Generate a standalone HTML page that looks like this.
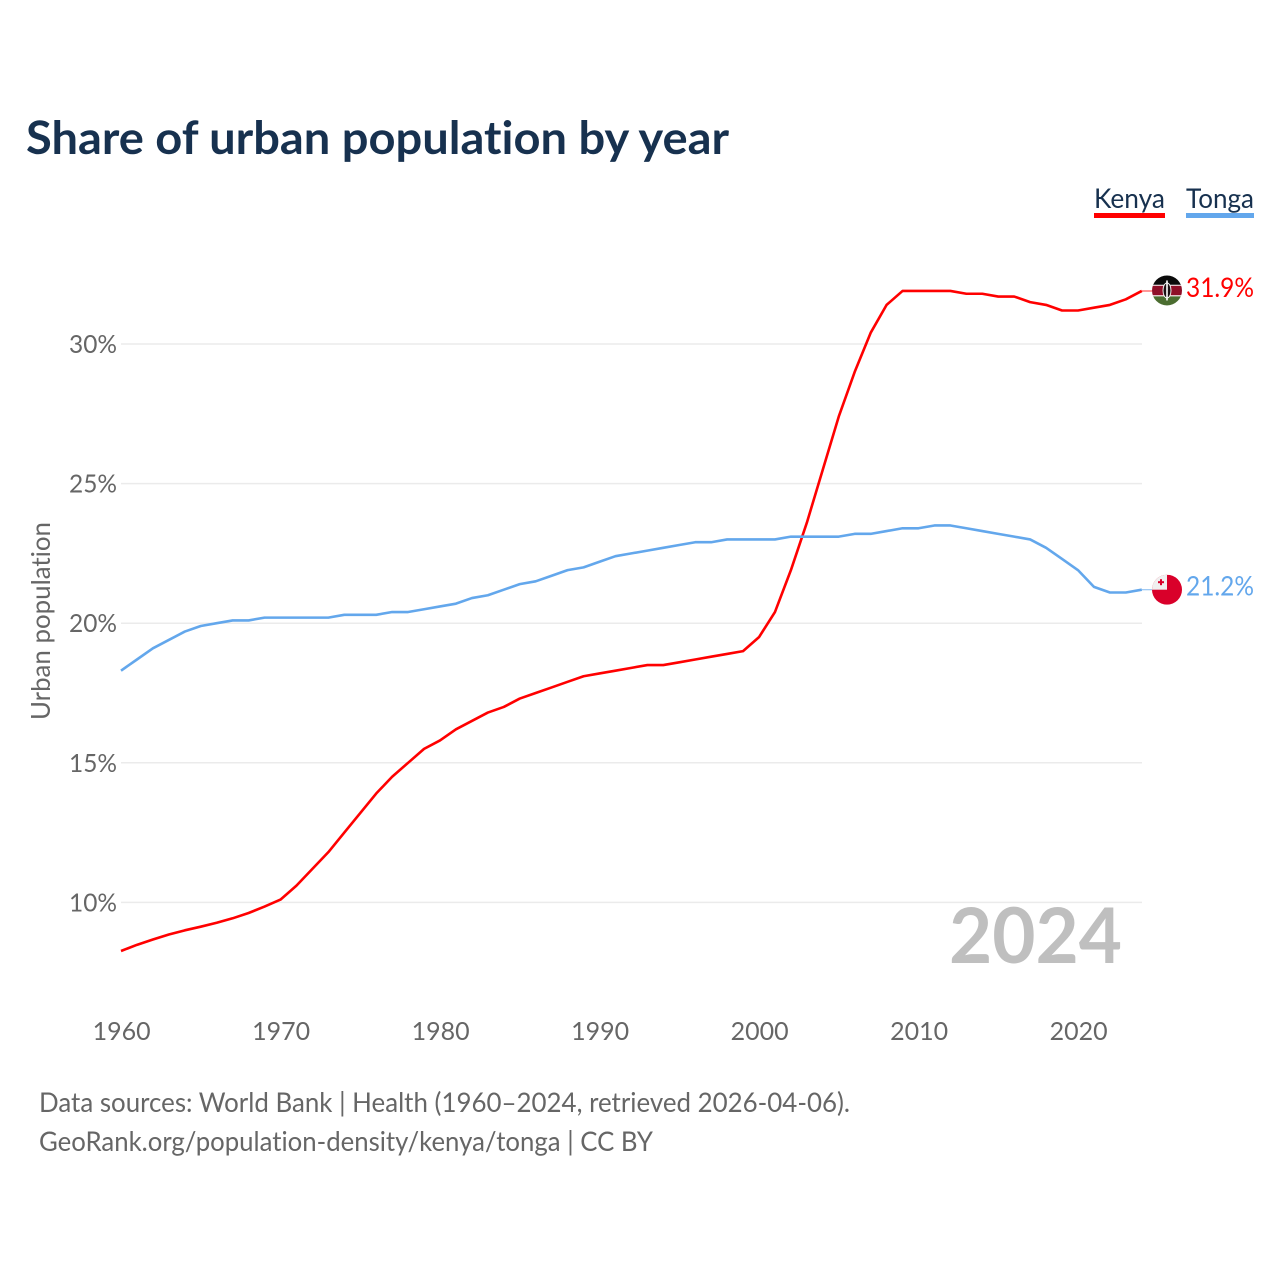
<!DOCTYPE html>
<html lang="en">
<head>
<meta charset="utf-8">
<title>Share of urban population by year</title>
<style>
html,body{margin:0;padding:0;background:#fff;width:1280px;height:1280px;overflow:hidden}
svg{display:block}
text{font-family:"Lato","Carlito","Liberation Sans",sans-serif;font-variant-ligatures:none;font-feature-settings:"liga" 0,"clig" 0}
</style>
</head>
<body>
<svg id="chart" xmlns="http://www.w3.org/2000/svg" width="1280" height="1280" viewBox="0 0 1280 1280">
  <defs>
    <clipPath id="flag-clip-k"><circle id="clip-k" cx="1167" cy="290" r="15"/></clipPath>
    <clipPath id="flag-clip-t"><circle id="clip-t" cx="1167" cy="590" r="15"/></clipPath>
  </defs>
  <rect width="1280" height="1280" fill="#fff"/>
  <text x="26" y="154" font-size="46" font-weight="700" fill="#17314f" textLength="703" lengthAdjust="spacingAndGlyphs">Share of urban population by year</text>

  <g>
    <g>
      <text x="1094" y="208" font-size="27" fill="#17314f" textLength="71" lengthAdjust="spacingAndGlyphs">Kenya</text>
      <rect x="1094" y="213" width="71" height="5" fill="#ff0000"/>
    </g>
    <g>
      <text x="1186" y="208" font-size="27" fill="#17314f" textLength="68" lengthAdjust="spacingAndGlyphs">Tonga</text>
      <rect x="1186" y="213" width="68" height="5" fill="#63a7ec"/>
    </g>
  </g>

  <g id="grid"></g>
  <g id="y-axis"></g>
  <g id="x-axis"></g>
  <text transform="translate(50,621) rotate(-90)" text-anchor="middle" font-size="26" fill="#666" textLength="198" lengthAdjust="spacingAndGlyphs">Urban population</text>
  <text x="1122" y="963" text-anchor="end" font-size="77" font-weight="700" fill="#bfbfbf" textLength="173" lengthAdjust="spacingAndGlyphs">2024</text>

  <g id="series"></g>

  <g id="flag-kenya" clip-path="url(#flag-clip-k)"></g>
  <g id="flag-tonga" clip-path="url(#flag-clip-t)"></g>
  <g id="end-labels"></g>

  <g>
    <text x="39" y="1112" font-size="27" fill="#666" textLength="811" lengthAdjust="spacingAndGlyphs">Data sources: World Bank | Health (1960–2024, retrieved 2026-04-06).</text>
    <text x="39" y="1151" font-size="27" fill="#666" textLength="614" lengthAdjust="spacingAndGlyphs">GeoRank.org/population-density/kenya/tonga | CC BY</text>
  </g>
</svg>
<script>
const startYear = 1960;
const kenyaValues = [8.26,8.48,8.67,8.85,9.0,9.13,9.27,9.43,9.62,9.85,10.1,10.6,11.2,11.8,12.5,13.2,13.9,14.5,15.0,15.5,15.8,16.2,16.5,16.8,17.0,17.3,17.5,17.7,17.9,18.1,18.2,18.3,18.4,18.5,18.5,18.6,18.7,18.8,18.9,19.0,19.5,20.4,21.9,23.6,25.5,27.4,29.0,30.4,31.4,31.9,31.9,31.9,31.9,31.8,31.8,31.7,31.7,31.5,31.4,31.2,31.2,31.3,31.4,31.6,31.9];
const tongaValues = [18.3,18.7,19.1,19.4,19.7,19.9,20.0,20.1,20.1,20.2,20.2,20.2,20.2,20.2,20.3,20.3,20.3,20.4,20.4,20.5,20.6,20.7,20.9,21.0,21.2,21.4,21.5,21.7,21.9,22.0,22.2,22.4,22.5,22.6,22.7,22.8,22.9,22.9,23.0,23.0,23.0,23.0,23.1,23.1,23.1,23.1,23.2,23.2,23.3,23.4,23.4,23.5,23.5,23.4,23.3,23.2,23.1,23.0,22.7,22.3,21.9,21.3,21.1,21.1,21.2];
const yTicks = [10,15,20,25,30];
const xTicks = [1960,1970,1980,1990,2000,2010,2020];

const NS = 'http://www.w3.org/2000/svg';
const xScale = function (year) { return 121 + (year - 1960) * 15.95; };
const yScale = function (v) { return 344 + (30 - v) * 27.92; };
function mk(tag, parent, attrs) {
  const el = document.createElementNS(NS, tag);
  for (const k in attrs) el.setAttribute(k, attrs[k]);
  parent.appendChild(el);
  return el;
}
const grid = document.getElementById('grid');
const yAxis = document.getElementById('y-axis');
const xAxis = document.getElementById('x-axis');
const series = document.getElementById('series');
const endLabels = document.getElementById('end-labels');

yTicks.forEach(function (t) {
  const line = mk('line', grid, {x1: 121, x2: 1142, y1: yScale(t), y2: yScale(t), stroke: '#ebebeb', 'stroke-width': 1.5});
  
  
  const label = mk('text', yAxis, {x: 117, y: yScale(t) + 9, 'text-anchor': 'end', 'font-size': 25, fill: '#666', textLength: 48, lengthAdjust: 'spacingAndGlyphs'});
  
  
  label.textContent = t + '%';
});
xTicks.forEach(function (t) {
  const label = mk('text', xAxis, {x: xScale(t) + 0.6, y: 1040, 'text-anchor': 'middle', 'font-size': 25, fill: '#666', textLength: 58, lengthAdjust: 'spacingAndGlyphs'});
  
  
  label.textContent = t;
});

function drawSeries(values, color, name) {
  const pts = values.map(function (v, i) { return xScale(startYear + i).toFixed(2) + ',' + yScale(v).toFixed(2); });
  const path = mk('polyline', series, {points: pts.join(' '), fill: 'none', stroke: color, 'stroke-width': 2.6, 'stroke-linejoin': 'round'});
  
  
  const last = values[values.length - 1];
  const lastX = xScale(startYear + values.length - 1);
  const conn = mk('line', series, {x1: lastX, x2: 1160, y1: yScale(last), y2: yScale(last), stroke: color, 'stroke-width': 1, opacity: 0.8});
  
  
  const label = mk('text', endLabels, {x: 1254, y: yScale(last) + 6, 'text-anchor': 'end', 'font-size': 27, fill: color, textLength: 68, lengthAdjust: 'spacingAndGlyphs'});
  
  
  label.textContent = last.toFixed(1) + '%';
}
drawSeries(kenyaValues, '#ff0000', 'kenya');
drawSeries(tongaValues, '#63a7ec', 'tonga');

const ky = yScale(kenyaValues[kenyaValues.length - 1]) - 0.5;
const ty = yScale(tongaValues[tongaValues.length - 1]);
document.getElementById('clip-k').setAttribute('cy', ky);
document.getElementById('clip-t').setAttribute('cy', ty);

const fk = document.getElementById('flag-kenya');
const flagBg = mk('rect', fk, {x: 1152, y: ky - 15, width: 30, height: 30, fill: '#fff'});


[[-15, 9.4, '#0b0b0b'], [-5.6, 0.9, '#fff'], [-4.7, 9.6, '#8f0f28'], [4.9, 1, '#fff'], [5.9, 9.1, '#4b6d30']].forEach(function (b) {
  const band = mk('rect', fk, {x: 1152, y: ky + b[0], width: 30, height: b[1], fill: b[2]});
  
  
});
const shield = mk('ellipse', fk, {cx: 1167, cy: ky, rx: 4, ry: 7.5, fill: '#1a1013', stroke: '#fff', 'stroke-width': 0.9});


const shieldCore = mk('rect', fk, {x: 1166.2, y: ky - 10, width: 1.6, height: 20, fill: '#fff'});



const ft = document.getElementById('flag-tonga');
const tBg = mk('rect', ft, {x: 1152, y: ty - 15, width: 30, height: 30, fill: '#d9002a'});


const tCanton = mk('rect', ft, {x: 1152, y: ty - 15, width: 15, height: 15, fill: '#f0f0f0'});


const tCrossH = mk('rect', ft, {x: 1158, y: ty - 8.5, width: 6, height: 2, fill: '#d9002a'});


const tCrossV = mk('rect', ft, {x: 1160, y: ty - 10.5, width: 2, height: 6, fill: '#d9002a'});


</script>
</body>
</html>
